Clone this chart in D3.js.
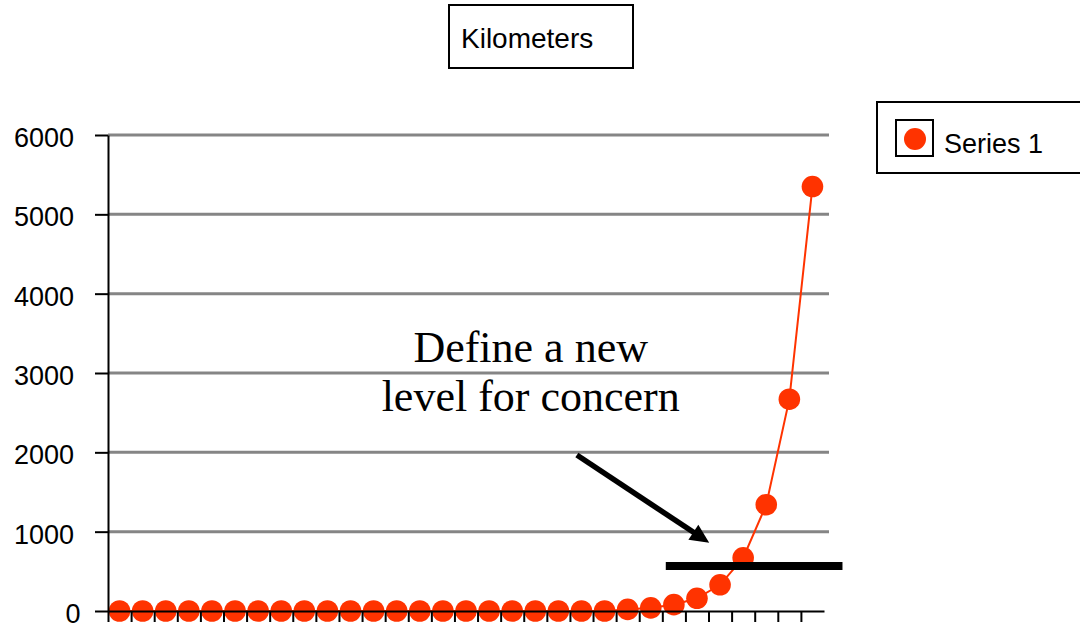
<!DOCTYPE html>
<html>
<head>
<meta charset="utf-8">
<script src="https://cdn.jsdelivr.net/npm/d3@7"></script>
<style>
  body { margin: 0; background: #fff; }
  svg { display: block; }
</style>
</head>
<body>
<svg id="chart" width="1080" height="637"></svg>
<script>
// ---- data ----
const categories = d3.range(1, 32); // 31 periods along the x axis
const kilometers = [
  0, 0, 0, 0, 0, 0, 0, 0, 0, 0,
  0, 0, 0, 0, 0, 0, 0, 0, 0, 0,
  0, 0, 20, 40, 80, 160, 330, 670, 1340, 2670,
  5350
];
const yTicks = [0, 1000, 2000, 3000, 4000, 5000, 6000];
const titleText = "Kilometers";
const seriesName = "Series 1";
const noteLines = ["Define a new", "level for concern"];
const concernLevel = 567;          // height of the black threshold bar
const concernSpan = [24.15, 31.8]; // slot range the bar covers
const arrowFrom = { slot: 20.3, value: 1966 };
const arrowTo = { slot: 26.03, value: 861 };
const notePos = { slot: 18.3, values: [3139, 2521] };

// ---- layout ----
const svg = d3.select("#chart");
const plot = { left: 108, right: 824, top: 135, bottom: 611 };
const seriesColor = "#ff3300";
const sansFont = "Arial, 'Liberation Sans', Helvetica, sans-serif";
const serifFont = "'Times New Roman', 'Liberation Serif', Times, serif";

const x = d3.scaleLinear().domain([0, categories.length]).range([plot.left, plot.right]);
const y = d3.scaleLinear().domain([0, 6000]).range([plot.bottom, plot.top]);

// horizontal gridlines
svg.append("g")
  .selectAll("line")
  .data(yTicks.filter(d => d > 0))
  .join("line")
  .attr("x1", plot.left).attr("x2", plot.right + 5)
  .attr("y1", d => y(d)).attr("y2", d => y(d))
  .attr("stroke", "#858585")
  .attr("stroke-width", 3);

// series line + markers
const line = d3.line()
  .x((d, i) => x(i + 0.5))
  .y(d => y(d));

svg.append("path")
  .datum(kilometers)
  .attr("d", line)
  .attr("fill", "none")
  .attr("stroke", seriesColor)
  .attr("stroke-width", 2);

svg.append("g")
  .selectAll("circle")
  .data(kilometers)
  .join("circle")
  .attr("cx", (d, i) => x(i + 0.5))
  .attr("cy", d => y(d))
  .attr("r", 10.8)
  .attr("fill", seriesColor);

// y axis
const yAxis = svg.append("g")
  .attr("transform", `translate(${plot.left},0)`)
  .call(d3.axisLeft(y).tickValues(yTicks).tickFormat(d3.format("d"))
    .tickSize(13).tickSizeOuter(0).tickPadding(21));
yAxis.select(".domain").attr("stroke", "#000").attr("stroke-width", 2);
yAxis.selectAll(".tick line").attr("stroke", "#000").attr("stroke-width", 2);
yAxis.selectAll(".tick text")
  .attr("font-family", sansFont)
  .attr("font-size", 27)
  .attr("fill", "#000")
  .attr("dy", "0.43em")
  .attr("dx", d => d === 0 ? 6.5 : 0);

// x axis (category boundaries, no labels)
const xAxis = svg.append("g")
  .attr("transform", `translate(0,${plot.bottom})`)
  .call(d3.axisBottom(x).tickValues(d3.range(0, categories.length)).tickSize(11).tickSizeOuter(0).tickFormat(""));
xAxis.select(".domain").attr("stroke", "#000").attr("stroke-width", 2);
xAxis.selectAll(".tick line").attr("stroke", "#000").attr("stroke-width", 2);

// threshold bar
svg.append("line")
  .attr("x1", x(concernSpan[0])).attr("x2", x(concernSpan[1]))
  .attr("y1", y(concernLevel)).attr("y2", y(concernLevel))
  .attr("stroke", "#000")
  .attr("stroke-width", 8);

// arrow pointing at the bar
const ax0 = x(arrowFrom.slot), ay0 = y(arrowFrom.value);
const ax1 = x(arrowTo.slot), ay1 = y(arrowTo.value);
const len = Math.hypot(ax1 - ax0, ay1 - ay0);
const ux = (ax1 - ax0) / len, uy = (ay1 - ay0) / len;
const headLen = 19, headHalf = 9;
const bx = ax1 - ux * headLen, by = ay1 - uy * headLen;
svg.append("line")
  .attr("x1", ax0).attr("y1", ay0)
  .attr("x2", bx + ux * 2).attr("y2", by + uy * 2)
  .attr("stroke", "#000")
  .attr("stroke-width", 5.5);
svg.append("path")
  .attr("d", `M${ax1},${ay1}L${bx - uy * headHalf},${by + ux * headHalf}L${bx + uy * headHalf},${by - ux * headHalf}Z`)
  .attr("fill", "#000");

// annotation text
svg.append("g")
  .selectAll("text")
  .data(noteLines)
  .join("text")
  .attr("x", x(notePos.slot))
  .attr("y", (d, i) => y(notePos.values[i]))
  .attr("text-anchor", "middle")
  .attr("font-family", serifFont)
  .attr("font-size", 44)
  .attr("fill", "#000")
  .text(d => d);

// title box
const title = svg.append("g");
title.append("rect")
  .attr("x", 449).attr("y", 5).attr("width", 184).attr("height", 63)
  .attr("fill", "#fff").attr("stroke", "#000").attr("stroke-width", 2);
title.append("text")
  .attr("x", 461).attr("y", 48)
  .attr("font-family", sansFont).attr("font-size", 28).attr("fill", "#000")
  .text(titleText);

// legend
const legend = svg.append("g");
legend.append("rect")
  .attr("x", 877).attr("y", 102).attr("width", 220).attr("height", 71)
  .attr("fill", "#fff").attr("stroke", "#000").attr("stroke-width", 2);
legend.append("rect")
  .attr("x", 896).attr("y", 120).attr("width", 37).attr("height", 36)
  .attr("fill", "#fff").attr("stroke", "#000").attr("stroke-width", 2);
legend.append("circle")
  .attr("cx", 915).attr("cy", 139).attr("r", 11)
  .attr("fill", seriesColor);
legend.append("text")
  .attr("x", 944).attr("y", 153)
  .attr("font-family", sansFont).attr("font-size", 27).attr("fill", "#000")
  .text(seriesName);
</script>
</body>
</html>
